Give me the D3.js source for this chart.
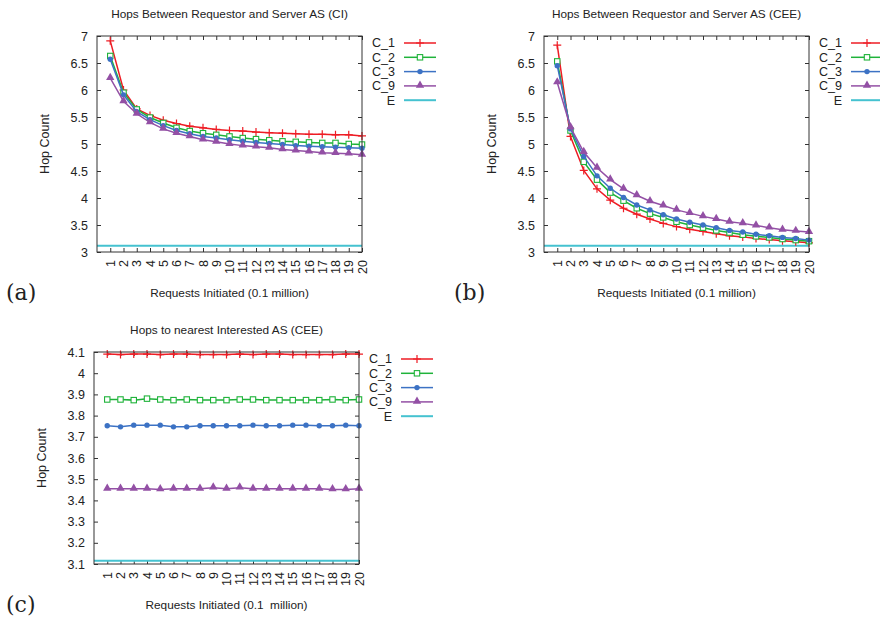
<!DOCTYPE html>
<html>
<head>
<meta charset="utf-8">
<script src="https://cdn.jsdelivr.net/npm/d3@7"></script>
<style>
  body { margin: 0; background: #fff; }
  svg text { font-family: "Liberation Sans", Arial, sans-serif; fill: #222; }
</style>
</head>
<body>
<div id="chart"></div>
<script>
// x categories (requests initiated, 0.1 million)
var requests = [1,2,3,4,5,6,7,8,9,10,11,12,13,14,15,16,17,18,19,20];
var seriesNames = ['C_1', 'C_2', 'C_3', 'C_9', 'E'];

// (a) hops between requestor and server AS (CI)
var ciC1 = [6.91,6.00,5.65,5.53,5.44,5.38,5.33,5.30,5.27,5.25,5.24,5.22,5.21,5.20,5.19,5.18,5.18,5.17,5.17,5.15];
var ciC2 = [6.63,5.95,5.64,5.49,5.39,5.30,5.24,5.20,5.17,5.14,5.11,5.09,5.07,5.05,5.04,5.03,5.02,5.02,5.00,4.99];
var ciC3 = [6.57,5.91,5.60,5.45,5.34,5.25,5.19,5.14,5.11,5.08,5.05,5.03,5.01,4.99,4.97,4.96,4.95,4.94,4.93,4.92];
var ciC9 = [6.22,5.79,5.56,5.40,5.28,5.20,5.14,5.08,5.04,5.00,4.97,4.95,4.93,4.90,4.88,4.86,4.84,4.83,4.82,4.80];

// (b) hops between requestor and server AS (CEE)
var ceeC1 = [6.83,5.14,4.51,4.17,3.96,3.81,3.70,3.61,3.53,3.47,3.42,3.38,3.34,3.30,3.28,3.25,3.23,3.21,3.19,3.17];
var ceeC2 = [6.53,5.25,4.67,4.34,4.10,3.95,3.81,3.71,3.64,3.56,3.50,3.45,3.40,3.36,3.32,3.29,3.27,3.24,3.22,3.20];
var ceeC3 = [6.45,5.28,4.77,4.41,4.18,4.01,3.87,3.78,3.69,3.61,3.55,3.50,3.45,3.40,3.37,3.33,3.30,3.27,3.25,3.22];
var ceeC9 = [6.14,5.31,4.85,4.56,4.34,4.17,4.05,3.94,3.86,3.78,3.72,3.66,3.61,3.56,3.53,3.49,3.45,3.41,3.39,3.37];

// (c) hops to nearest interested AS (CEE)
var nearC1 = [4.090,4.088,4.090,4.090,4.088,4.090,4.090,4.088,4.088,4.088,4.090,4.088,4.090,4.090,4.088,4.088,4.088,4.088,4.090,4.090];
var nearC2 = [3.876,3.876,3.873,3.880,3.876,3.873,3.876,3.873,3.873,3.873,3.876,3.876,3.873,3.873,3.873,3.873,3.873,3.876,3.873,3.876];
var nearC3 = [3.752,3.747,3.755,3.755,3.755,3.747,3.747,3.752,3.752,3.752,3.752,3.755,3.752,3.752,3.755,3.755,3.752,3.752,3.755,3.752];
var nearC9 = [3.455,3.455,3.455,3.455,3.452,3.455,3.455,3.455,3.460,3.455,3.460,3.455,3.455,3.455,3.455,3.455,3.455,3.452,3.452,3.455];

// E baseline (same in every panel)
var eLevel = 3.115;

var ticksAB = [3,3.5,4,4.5,5,5.5,6,6.5,7];
var ticksC = [3.1,3.2,3.3,3.4,3.5,3.6,3.7,3.8,3.9,4,4.1];

var colors = {C_1: '#ee1c24', C_2: '#1fb33a', C_3: '#3c72c4', C_9: '#9350a5', E: '#45c2d0'};

var svg = d3.select('#chart').append('svg')
  .attr('width', 880)
  .attr('height', 619);

function marker(g, name, cx, cy) {
  var c = colors[name];
  if (name == 'C_1') {
    g.append('path').attr('d', 'M' + (cx-4) + ',' + cy + 'h8M' + cx + ',' + (cy-4) + 'v8')
      .attr('stroke', c).attr('stroke-width', 1.2).attr('fill', 'none');
  } else if (name == 'C_2') {
    g.append('rect').attr('x', cx-2.7).attr('y', cy-2.7).attr('width', 5.4).attr('height', 5.4)
      .attr('stroke', c).attr('stroke-width', 1.1).attr('fill', '#fff');
  } else if (name == 'C_3') {
    g.append('circle').attr('cx', cx).attr('cy', cy).attr('r', 2.7).attr('fill', c);
  } else if (name == 'C_9') {
    g.append('path').attr('d', d3.symbol(d3.symbolTriangle, 30)())
      .attr('transform', 'translate(' + cx + ',' + (cy-0.5) + ')').attr('fill', c);
  }
}

function drawPanel(p) {
  var x = d3.scaleLinear().domain([0, 20]).range([p.left, p.right]);
  var y = d3.scaleLinear().domain(p.yDomain).range([p.bottom, p.top]);
  var g = svg.append('g');
  var fmt = function(v) { return String(+v.toFixed(1)); };

  var ax = g.append('g').attr('transform', 'translate(0,' + p.bottom + ')')
    .call(d3.axisBottom(x).tickValues(requests).tickSize(-4).tickPadding(0));
  ax.selectAll('text')
    .attr('transform', 'rotate(-90)')
    .attr('text-anchor', 'end')
    .attr('x', -8).attr('y', 0).attr('dy', '0.33em')
    .style('font-size', '12.5px');
  g.append('g').attr('transform', 'translate(0,' + p.top + ')')
    .call(d3.axisTop(x).tickValues(requests).tickSize(-4).tickFormat(''));
  var ay = g.append('g').attr('transform', 'translate(' + p.left + ',0)')
    .call(d3.axisLeft(y).tickValues(p.yTicks).tickSize(-4).tickPadding(9).tickFormat(fmt));
  ay.selectAll('text').style('font-size', '12.5px');
  g.append('g').attr('transform', 'translate(' + p.right + ',0)')
    .call(d3.axisRight(y).tickValues(p.yTicks).tickSize(-4).tickFormat(''));
  g.selectAll('.domain').remove();
  g.selectAll('.tick line').attr('stroke', '#333');

  // E constant line
  g.append('line')
    .attr('x1', x.range()[0]).attr('x2', x.range()[1])
    .attr('y1', y(eLevel)).attr('y2', y(eLevel))
    .attr('stroke', colors.E).attr('stroke-width', 2);

  var line = d3.line().x(function(d) { return x(d[0]); }).y(function(d) { return y(d[1]); });
  p.series.forEach(function(vals, i) {
    var name = seriesNames[i];
    var pts = requests.map(function(r, j) { return [r, vals[j]]; });
    g.append('path').datum(pts)
      .attr('d', line)
      .attr('fill', 'none')
      .attr('stroke', colors[name])
      .attr('stroke-width', 1.5);
    pts.forEach(function(d) { marker(g, name, x(d[0]), y(d[1])); });
  });

  g.append('rect')
    .attr('x', p.left).attr('y', p.top)
    .attr('width', p.right - p.left).attr('height', p.bottom - p.top)
    .attr('fill', 'none').attr('stroke', '#333').attr('stroke-width', 1);

  // legend
  seriesNames.forEach(function(name, i) {
    var ly = p.top + 7 + i * 14.3;
    g.append('text').attr('x', p.right + 33).attr('y', ly).attr('dy', '0.35em')
      .attr('text-anchor', 'end').style('font-size', '12.5px').text(name);
    g.append('line').attr('x1', p.right + 42).attr('x2', p.right + 74)
      .attr('y1', ly).attr('y2', ly)
      .attr('stroke', colors[name]).attr('stroke-width', name == 'E' ? 2 : 1.5);
    marker(g, name, p.right + 58, ly);
  });

  var cx = (p.left + p.right) / 2;
  g.append('text').attr('x', cx).attr('y', p.top - 18)
    .attr('text-anchor', 'middle').style('font-size', '11.8px').text(p.title);
  g.append('text').attr('transform', 'translate(' + (p.left - 52) + ',' + ((p.top + p.bottom) / 2) + ')rotate(-90)')
    .attr('dy', '0.35em').attr('text-anchor', 'middle').style('font-size', '12.5px').text('Hop Count');
  g.append('text').attr('x', cx).attr('y', p.bottom + 45)
    .attr('text-anchor', 'middle').style('font-size', '11.8px').style('white-space', 'pre').text(p.xlabel);
  g.append('text').attr('x', p.tagX).attr('y', p.bottom + 48)
    .style('font-family', '"DejaVu Serif", serif').style('font-size', '22px').text(p.tag);
}

drawPanel({left: 97, right: 362, top: 36, bottom: 252, yDomain: [3, 7], yTicks: ticksAB,
  series: [ciC1, ciC2, ciC3, ciC9], title: 'Hops Between Requestor and Server AS (CI)',
  xlabel: 'Requests Initiated (0.1 million)', tag: '(a)', tagX: 6});
drawPanel({left: 544, right: 809, top: 36, bottom: 252, yDomain: [3, 7], yTicks: ticksAB,
  series: [ceeC1, ceeC2, ceeC3, ceeC9], title: 'Hops Between Requestor and Server AS (CEE)',
  xlabel: 'Requests Initiated (0.1 million)', tag: '(b)', tagX: 454});
drawPanel({left: 94, right: 359, top: 352, bottom: 564, yDomain: [3.1, 4.1], yTicks: ticksC,
  series: [nearC1, nearC2, nearC3, nearC9], title: 'Hops to nearest Interested AS (CEE)',
  xlabel: 'Requests Initiated (0.1  million)', tag: '(c)', tagX: 6});
</script>
</body>
</html>
